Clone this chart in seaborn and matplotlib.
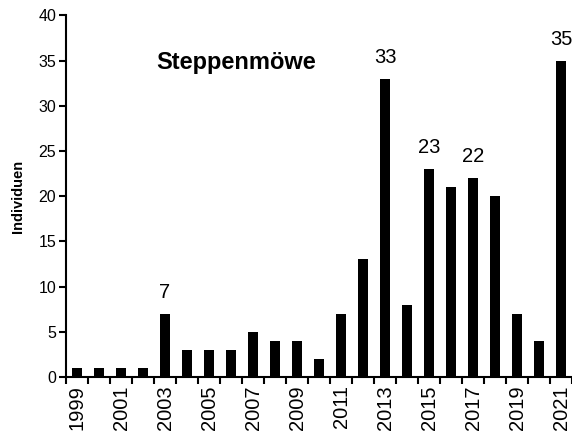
import matplotlib
matplotlib.use("Agg")
import matplotlib.pyplot as plt
import seaborn as sns
import pandas as pd
from matplotlib.ticker import FixedLocator

years = [str(y) for y in range(1999, 2022)]
individuals = [1, 1, 1, 1, 7, 3, 3, 3, 5, 4, 4, 2, 7, 13, 33, 8, 23, 21, 22, 20, 7, 4, 35]
labelled_years = ["2003", "2013", "2015", "2017", "2021"]
title_text = "Steppenmöwe"
y_label = "Individuen"

sns.set_theme(style="white")
plt.rcParams["font.family"] = ["Liberation Sans", "DejaVu Sans"]
plt.rcParams["text.color"] = "black"
plt.rcParams["axes.labelcolor"] = "black"
plt.rcParams["xtick.color"] = "black"
plt.rcParams["ytick.color"] = "black"

df = pd.DataFrame({"Jahr": years, "Individuen": individuals})

fig = plt.figure(figsize=(5.72, 4.44), dpi=100)
ax = fig.add_axes([0.1154, 0.1509, 0.8846, 0.8146])
sns.barplot(data=df, x="Jahr", y="Individuen", order=years, color="black",
            width=0.46, ax=ax, saturation=1, edgecolor="black", linewidth=0)

ax.set_xlim(-0.5, len(years) - 0.5)
ax.set_ylim(0, 40)
ax.set_yticks(range(0, 41, 5))
ax.tick_params(axis="y", labelsize=11.5, length=5, width=1.5, direction="out",
               left=True, pad=2, colors="black")

major = list(range(0, len(years), 2))
ax.set_xticks(major)
ax.set_xticklabels([years[i] for i in major], rotation=90, fontsize=14.5)
ax.xaxis.set_minor_locator(FixedLocator([i - 0.5 for i in range(len(years) + 1)]))
ax.tick_params(axis="x", which="major", length=0, pad=6, colors="black")
ax.tick_params(axis="x", which="minor", length=5, width=1.5, direction="out",
               bottom=True, colors="black")

for side in ["top", "right"]:
    ax.spines[side].set_visible(False)
for side in ["left", "bottom"]:
    ax.spines[side].set_linewidth(1.5)
    ax.spines[side].set_color("black")

ax.set_xlabel("")
ax.set_ylabel(y_label, fontsize=10.5, fontweight="bold", labelpad=10, color="black")

for yr in labelled_years:
    i = years.index(yr)
    ax.annotate(str(individuals[i]), xy=(i, individuals[i]), xytext=(0, 11.5),
                textcoords="offset points", ha="center", va="baseline",
                fontsize=14.5, color="black", annotation_clip=False)

ax.text(0.178, 0.87, title_text, transform=ax.transAxes, fontsize=17,
        fontweight="bold", ha="left", va="center", color="black")

fig.savefig("out.png", dpi=100)
